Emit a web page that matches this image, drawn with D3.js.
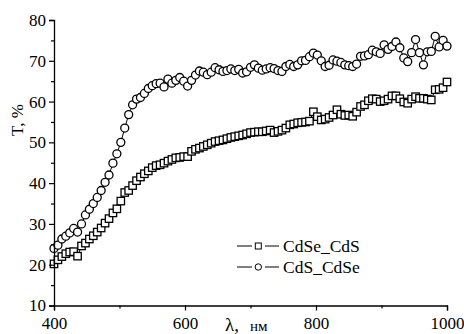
<!DOCTYPE html>
<html>
<head>
<meta charset="utf-8">
<script src="https://cdn.jsdelivr.net/npm/d3@7"></script>
<style>
  body { margin: 0; background: #fff; }
  svg { display: block; }
  text { font-family: "Liberation Serif", "Times New Roman", serif; fill: #000; }
</style>
</head>
<body>
<div id="chart"></div>
<script>
// wavelength, nm (step 6 nm)
var wl = d3.range(400, 1001, 6);

// CdSe_CdS (squares)
var cdseCds = [20.2, 21.2, 22.0, 22.7, 23.1, 23.2, 22.1, 24.6, 25.3, 26.3, 27.1, 28.0, 29.0, 30.2, 31.3, 32.7, 33.7,
  35.6, 37.7, 38.2, 39.4, 40.6, 41.5, 42.3, 43.0, 43.8, 44.3, 44.5, 44.9, 45.4, 45.8, 46.2, 46.3, 46.5, 46.5,
  47.8, 48.3, 48.6, 49.0, 49.4, 49.8, 50.2, 50.4, 50.6, 50.9, 51.2, 51.4, 51.6, 51.8, 52.1, 52.4, 52.5, 52.6,
  52.6, 52.8, 53.0, 52.4, 52.7, 53.0, 53.5, 54.3, 54.5, 54.8, 54.9, 55.0, 55.2, 57.5, 56.3, 55.5, 55.7, 56.1,
  56.7, 58.0, 56.9, 56.6, 56.7, 56.4, 57.4, 58.8, 59.2, 60.2, 60.7, 60.6, 60.0, 60.2, 60.6, 61.4, 61.4, 60.7,
  59.9, 59.6, 60.6, 61.2, 60.8, 60.8, 60.6, 60.4, 62.9, 63.0, 63.4, 64.8];

// CdS_CdSe (circles)
var cdsCdse = [24.0, 24.8, 26.3, 27.0, 27.8, 28.9, 28.0, 30.0, 32.2, 33.6, 35.0, 36.5, 38.2, 40.2, 42.0, 44.9, 47.2,
  50.0, 53.5, 56.8, 59.2, 60.6, 61.0, 62.0, 63.2, 63.9, 64.4, 64.5, 63.6, 65.5, 64.5, 65.2, 65.9, 65.0, 63.8,
  65.2, 66.5, 67.5, 67.2, 66.6, 67.2, 68.3, 67.8, 67.4, 67.6, 68.0, 67.6, 67.9, 67.0, 67.3, 68.4, 69.0, 68.2,
  67.7, 68.0, 68.3, 68.1, 67.6, 67.4, 68.6, 69.1, 68.6, 69.0, 70.0, 70.1, 71.0, 71.9, 71.4, 70.0, 68.6, 68.9,
  70.2, 69.9, 69.6, 69.0, 68.8, 68.6, 69.2, 71.1, 71.2, 71.5, 72.6, 72.2, 71.8, 73.9, 72.8, 73.5, 74.6, 73.2,
  70.7, 69.8, 72.0, 75.2, 72.0, 69.0, 72.2, 72.3, 76.0, 73.4, 75.0, 73.6];

var xMajor = [400, 600, 800, 1000];
var xMinor = [500, 700, 900];
var yMajor = [10, 20, 30, 40, 50, 60, 70, 80];
var yMinor = [15, 25, 35, 45, 55, 65, 75];

var width = 464, height = 334;

var svg = d3.select("#chart").append("svg")
  .attr("width", width)
  .attr("height", height);

var x = d3.scaleLinear().domain([400, 1000]).range([54, 447]);
var y = d3.scaleLinear().domain([10, 80]).range([305.5, 20]);

var sq = wl.map(function (d, i) { return { x: d, y: cdseCds[i] }; });
var ci = wl.map(function (d, i) { return { x: d, y: cdsCdse[i] }; });

var line = d3.line()
  .x(function (d) { return x(d.x); })
  .y(function (d) { return y(d.y); });

// lines
[sq, ci].forEach(function (s) {
  svg.append("path")
    .datum(s)
    .attr("d", line)
    .attr("fill", "none")
    .attr("stroke", "#000")
    .attr("stroke-width", 1);
});

// markers
svg.append("g").selectAll("rect")
  .data(sq)
  .enter().append("rect")
  .attr("x", function (d) { return x(d.x) - 3.7; })
  .attr("y", function (d) { return y(d.y) - 3.7; })
  .attr("width", 7.4)
  .attr("height", 7.4)
  .attr("fill", "#fff")
  .attr("stroke", "#000")
  .attr("stroke-width", 1.3);

svg.append("g").selectAll("circle")
  .data(ci)
  .enter().append("circle")
  .attr("cx", function (d) { return x(d.x); })
  .attr("cy", function (d) { return y(d.y); })
  .attr("r", 4)
  .attr("fill", "#fff")
  .attr("stroke", "#000")
  .attr("stroke-width", 1.3);

// axes
svg.append("g")
  .attr("transform", "translate(0," + y(10) + ")")
  .call(d3.axisBottom(x).tickValues(xMajor).tickSize(5).tickPadding(6).tickFormat(d3.format("d")));
svg.append("g")
  .attr("transform", "translate(0," + y(10) + ")")
  .call(d3.axisBottom(x).tickValues(xMinor).tickSize(3).tickFormat(""))
  .select(".domain").remove();

svg.append("g")
  .attr("transform", "translate(" + x(400) + ",0)")
  .call(d3.axisLeft(y).tickValues(yMajor).tickSize(5).tickPadding(3));
svg.append("g")
  .attr("transform", "translate(" + x(400) + ",0)")
  .call(d3.axisLeft(y).tickValues(yMinor).tickSize(3).tickFormat(""))
  .select(".domain").remove();

svg.selectAll(".domain").attr("stroke-width", 1.3);
svg.selectAll(".tick line").attr("stroke-width", 1.2);
svg.selectAll(".tick text")
  .style("font-family", "'Liberation Serif', 'Times New Roman', serif")
  .style("font-size", "17px");

// axis titles
svg.append("text")
  .attr("transform", "translate(23,120) rotate(-90)")
  .attr("text-anchor", "middle")
  .style("font-size", "17px")
  .text("T, %");

svg.append("text")
  .attr("x", 225)
  .attr("y", 331)
  .style("font-size", "19px")
  .text("λ,");
svg.append("text")
  .attr("x", 250)
  .attr("y", 331)
  .style("font-size", "15px")
  .text("нм");

// legend
var legend = [
  { name: "CdSe_CdS", shape: "square", y: 246 },
  { name: "CdS_CdSe", shape: "circle", y: 267 }
];
legend.forEach(function (l) {
  svg.append("line")
    .attr("x1", 237).attr("x2", 252)
    .attr("y1", l.y).attr("y2", l.y)
    .attr("stroke", "#000").attr("stroke-width", 1);
  svg.append("line")
    .attr("x1", 265).attr("x2", 279)
    .attr("y1", l.y).attr("y2", l.y)
    .attr("stroke", "#000").attr("stroke-width", 1);
  if (l.shape === "square") {
    svg.append("rect")
      .attr("x", 255.3).attr("y", l.y - 3)
      .attr("width", 6).attr("height", 6)
      .attr("fill", "#fff").attr("stroke", "#000").attr("stroke-width", 1);
  } else {
    svg.append("circle")
      .attr("cx", 258.3).attr("cy", l.y).attr("r", 3.2)
      .attr("fill", "#fff").attr("stroke", "#000").attr("stroke-width", 1);
  }
  svg.append("text")
    .attr("x", 283)
    .attr("y", l.y + 5.5)
    .style("font-size", "17.5px")
    .text(l.name);
});
</script>
</body>
</html>
